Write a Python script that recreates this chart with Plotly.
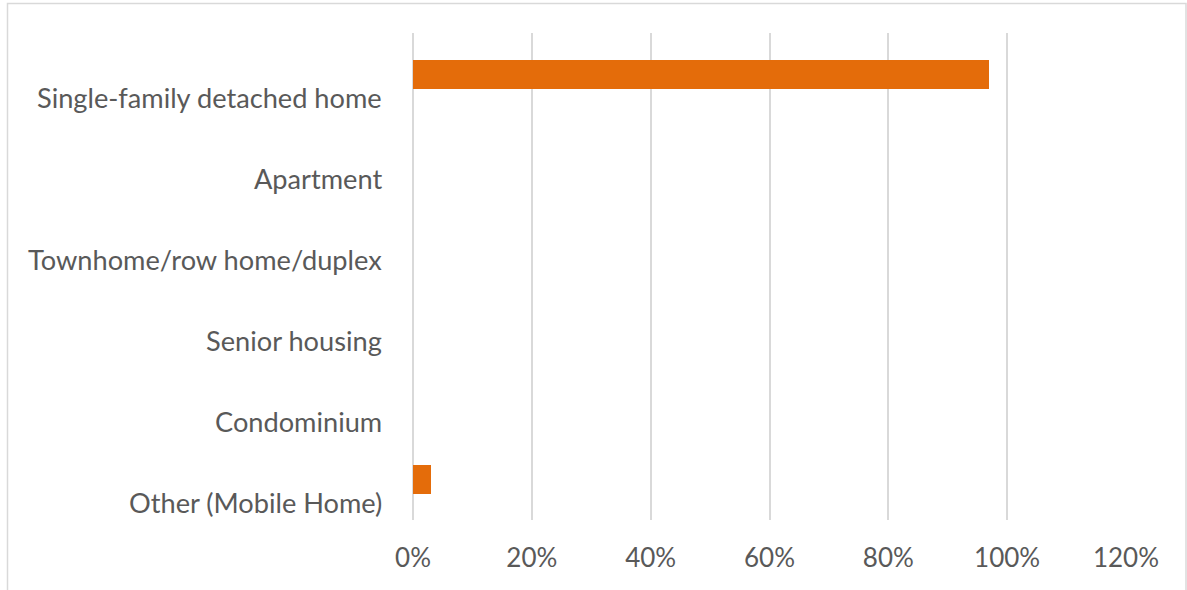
import plotly.graph_objects as go

categories = [
    "Single-family detached home",
    "Apartment",
    "Townhome/row home/duplex",
    "Senior housing",
    "Condominium",
    "Other (Mobile Home)",
]
values = [97, 0, 0, 0, 0, 3]
tick_vals = [0, 20, 40, 60, 80, 100, 120]
tick_text = ["0%", "20%", "40%", "60%", "80%", "100%", "120%"]

W, H = 1187, 590
L, R, T, B = 413, 1187 - 1126, 33, 590 - 520
pw, ph = W - L - R, H - T - B

FONT = "Lato"
TXT = "#595959"
GRID = "#d9d9d9"

fig = go.Figure()
fig.add_trace(go.Bar(
    x=values, y=categories, orientation="h",
    width=0.35, marker=dict(color="#E46C0A", line=dict(width=0)),
    hoverinfo="skip",
))

annotations = []
for c in categories:
    annotations.append(dict(
        x=0, xref="paper", y=c, yref="y", text=c, showarrow=False,
        xanchor="right", yanchor="middle", xshift=-29, yshift=-23,
        font=dict(family=FONT, size=27.2, color=TXT),
    ))

fig.update_layout(
    width=W, height=H,
    margin=dict(l=L, r=R, t=T, b=B),
    paper_bgcolor="white", plot_bgcolor="white",
    showlegend=False,
    bargap=0,
    annotations=annotations,
    shapes=[dict(
        type="rect", xref="paper", yref="paper",
        x0=(7.5 - L) / pw, x1=(1186 - L) / pw,
        y0=-0.5, y1=(520 - 3.5) / ph,
        line=dict(color=GRID, width=1.5), fillcolor="rgba(0,0,0,0)", layer="below",
    )],
    xaxis=dict(
        range=[0, 120], tickvals=tick_vals, ticktext=tick_text,
        showgrid=True, gridcolor=GRID, gridwidth=1.5,
        zeroline=True, zerolinecolor=GRID, zerolinewidth=1.5,
        showline=False, ticks="",
        tickfont=dict(family=FONT, size=26, color=TXT),
        ticklabelstandoff=20,
        fixedrange=True,
    ),
    yaxis=dict(
        categoryorder="array", categoryarray=categories,
        autorange="reversed", showticklabels=False, ticks="",
        showgrid=False, zeroline=False, showline=False,
        fixedrange=True,
    ),
)

fig.write_html(
    "out.html",
    config={"displayModeBar": False},
    post_script="document.body.style.margin='0';document.body.style.overflow='hidden';",
)
